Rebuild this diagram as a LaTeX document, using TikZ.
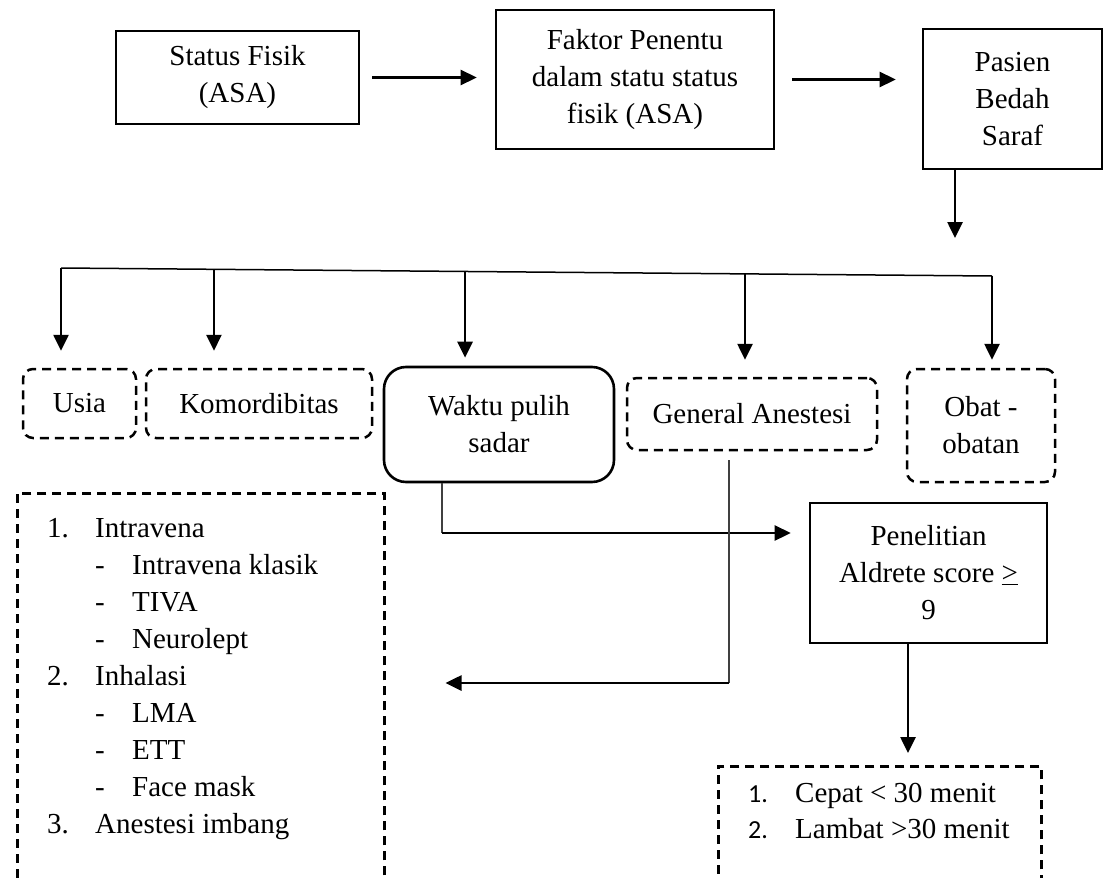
\documentclass[tikz,border=0pt]{standalone}
\usepackage{fontspec}
\setmainfont{Liberation Serif}
\newfontfamily\numfont{Carlito}
\usetikzlibrary{arrows.meta,calc}
\begin{document}
\begin{tikzpicture}[x=1pt,y=-1pt,
  font=\fontsize{29}{37}\selectfont,
  solidbox/.style={draw,line width=2.6pt,align=center,inner sep=0pt},
  dbox/.style={draw,line width=2.5pt,dash pattern=on 9pt off 6pt,rounded corners=10pt,align=center,inner sep=0pt},
  openbox/.style={draw,line width=2.5pt,dash pattern=on 9pt off 6pt,inner sep=0pt,anchor=north west},
  arr/.style={line width=2.6pt,-{Triangle[length=16pt,width=15pt]}},
  busline/.style={line width=1.5pt},
  thinline/.style={line width=1.3pt,draw=black!75},
  listitem/.style={anchor=base west,inner sep=0pt}]
\useasboundingbox (0,0) rectangle (1112,878);
\clip (0,0) rectangle (1112,878);

% top row
\node[solidbox,minimum width=243pt,minimum height=93pt] (sfisik) at (237.5,77.5) {Status Fisik\\(ASA)};
\node[solidbox,minimum width=278pt,minimum height=139pt] (faktor) at (635,79.5) {Faktor Penentu\\dalam statu status\\fisik (ASA)};
\node[solidbox,minimum width=179pt,minimum height=140pt] (pasien) at (1012.5,99) {Pasien\\Bedah\\Saraf};

\draw[arr,shorten <=12pt,shorten >=18pt] (sfisik.east) -- (sfisik.east -| faktor.west);
\draw[arr,shorten <=17pt,shorten >=26pt] (faktor.east) -- (faktor.east -| pasien.west);

\coordinate (pd) at (955,238);
\draw[arr] (pd |- pasien.south) -- (pd);

% factor boxes
\node[dbox,minimum width=113pt,minimum height=69pt] (usia) at (79.5,403.5) {Usia};
\node[dbox,minimum width=226pt,minimum height=69pt] (komor) at (259,403.5) {Komordibitas};
\node[solidbox,rounded corners=22pt,minimum width=230pt,minimum height=115pt] (waktu) at (499,424.5) {Waktu pulih\\sadar};
\node[dbox,minimum width=250pt,minimum height=72pt] (general) at (752,414) {General Anestesi};
\node[dbox,minimum width=148pt,minimum height=113pt] (obat) at (981,425.5) {Obat -\\obatan};

% bus
\coordinate (busL) at (61,268);
\coordinate (busR) at (992,276);
\coordinate (b2) at ($(busL)!0.1643!(busR)$);
\coordinate (b3) at ($(busL)!0.434!(busR)$);
\coordinate (b4) at ($(busL)!0.7347!(busR)$);
\draw[busline] (busL) -- (busR);
\draw[arr,shorten >=17pt] (busL) -- (busL |- usia.north);
\draw[arr,shorten >=17pt] (b2) -- (b2 |- komor.north);
\draw[arr,shorten >=8pt] (b3) -- (b3 |- waktu.north);
\draw[arr,shorten >=17pt] (b4) -- (b4 |- general.north);
\draw[arr,shorten >=8pt] (busR) -- (busR |- obat.north);

% Penelitian
\node[solidbox,minimum width=237pt,minimum height=140pt] (penelitian) at (928.5,573) {Penelitian\\Aldrete score \underline{>}\\9};

% methods box
\node[openbox,minimum width=367pt,minimum height=420pt] (methods) at (16,492) {};
\node[listitem] (m1) at (47,537) {\makebox[48pt][l]{1.}Intravena};
\node[listitem] (m2) at (95,574) {\makebox[37pt][l]{-}Intravena klasik};
\node[listitem] (m3) at (95,611) {\makebox[37pt][l]{-}TIVA};
\node[listitem] (m4) at (95,648) {\makebox[37pt][l]{-}Neurolept};
\node[listitem] (m5) at (47,685) {\makebox[48pt][l]{2.}Inhalasi};
\node[listitem] (m6) at (95,722) {\makebox[37pt][l]{-}LMA};
\node[listitem] (m7) at (95,759) {\makebox[37pt][l]{-}ETT};
\node[listitem] (m8) at (95,796) {\makebox[37pt][l]{-}Face mask};
\node[listitem] (m9) at (47,833) {\makebox[48pt][l]{3.}Anestesi imbang};

% result box
\node[openbox,minimum width=323pt,minimum height=200pt] (result) at (717,765) {};
\node[listitem] (r1) at (748,802) {\makebox[47pt][l]{\numfont\fontsize{26}{37}\selectfont 1.}Cepat {<} 30 menit};
\node[listitem] (r2) at (748,838) {\makebox[47pt][l]{\numfont\fontsize{26}{37}\selectfont 2.}Lambat {>}30 menit};

% connectors
\coordinate (wp) at (442,533);
\draw[thinline] (wp |- waktu.south) -- (wp);
\draw[arr,shorten >=18pt] (wp) -- (wp -| penelitian.west);

\coordinate (gtop) at (729,460);
\coordinate (gc) at (729,683);
\draw[thinline] (gtop) -- (gc);
\draw[arr,shorten >=60pt] (gc) -- (gc -| methods.east);

\coordinate (pr) at (908,643);
\draw[arr,shorten >=12pt] (pr) -- (pr |- result.north);
\end{tikzpicture}
\end{document}
